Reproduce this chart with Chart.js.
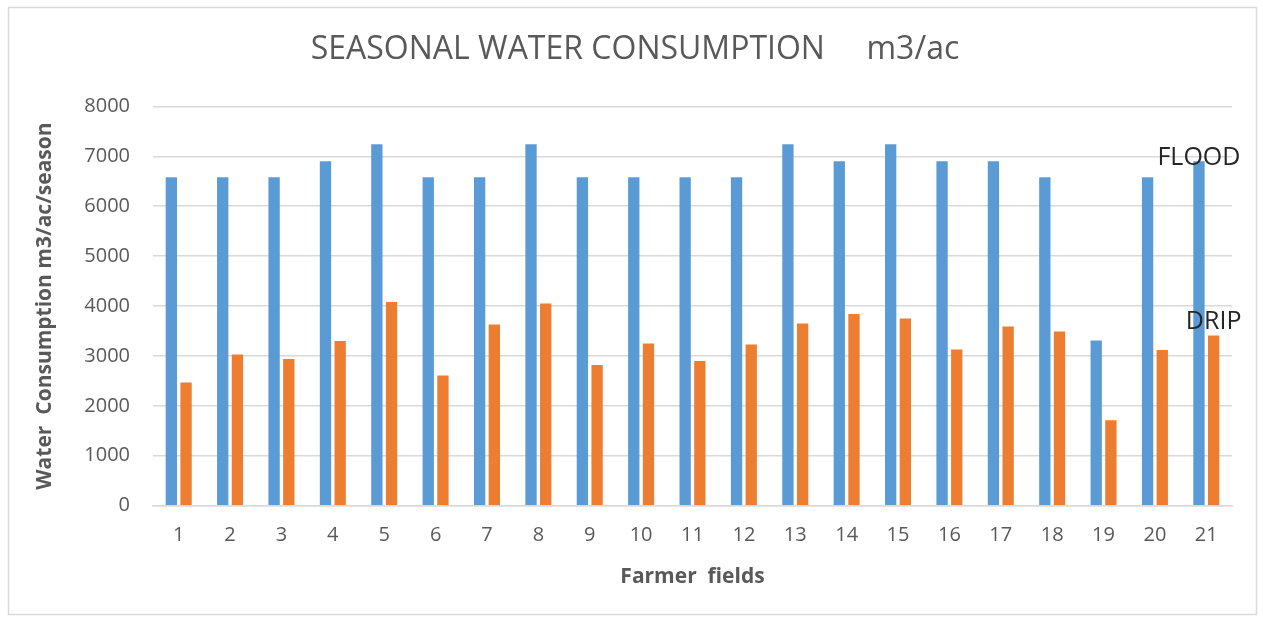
<!DOCTYPE html>
<html>
<head>
<meta charset="utf-8">
<script src="https://cdn.jsdelivr.net/npm/chart.js@4.4.1/dist/chart.umd.min.js"></script>
<style>
  html, body { margin: 0; padding: 0; background: #fff; }
  #wrap { width: 1263px; height: 620px; position: relative; }
</style>
</head>
<body>
<div id="wrap"><canvas id="chart"></canvas></div>
<script>
// farmer field numbers
const fields = ["1", "2", "3", "4", "5", "6", "7", "8", "9", "10", "11",
  "12", "13", "14", "15", "16", "17", "18", "19", "20", "21"];

// seasonal water use, m3/ac/season
const flood = [6580, 6580, 6580, 6900, 7240, 6580, 6580, 7240, 6580, 6580, 6580,
  6580, 7240, 6900, 7240, 6900, 6900, 6580, 3310, 6580, 6900];
const drip = [2470, 3030, 2940, 3300, 4080, 2610, 3630, 4050, 2820, 3250, 2900,
  3230, 3650, 3840, 3750, 3130, 3590, 3490, 1710, 3120, 3410];

const yMin = 0;
const yMax = 8000;
const yStep = 1000;

const grey = "#595959";
const gridGrey = "#d9d9d9";

// white page + thin frame like the excel chart box
const frame = {
  id: "frame",
  beforeDraw(chart) {
    const ctx = chart.ctx;
    ctx.save();
    ctx.fillStyle = "#fff";
    ctx.fillRect(0, 0, chart.width, chart.height);
    ctx.strokeStyle = gridGrey;
    ctx.lineWidth = 1.5;
    ctx.strokeRect(8.5, 7.5, 1248, 607);
    ctx.restore();
  },
};

// series names written above the last pair of bars
const seriesNames = {
  id: "seriesNames",
  afterDatasetsDraw(chart, args, opts) {
    const ctx = chart.ctx;
    ctx.save();
    ctx.font = "25px 'Open Sans'";
    ctx.fillStyle = "#262626";
    ctx.textAlign = "center";
    ctx.textBaseline = "alphabetic";
    chart.data.datasets.forEach((ds, i) => {
      const meta = chart.getDatasetMeta(i);
      const bar = meta.data[meta.data.length - 1];
      ctx.fillText(ds.label, bar.x, bar.y + opts.shift[i]);
    });
    ctx.restore();
  },
};

new Chart(document.getElementById("chart"), {
  type: "bar",
  data: {
    labels: fields,
    datasets: [
      { label: "FLOOD", data: flood, backgroundColor: "#5b9bd5" },
      { label: "DRIP", data: drip, backgroundColor: "#ed7d31" },
    ],
  },
  options: {
    responsive: true,
    maintainAspectRatio: false,
    animation: false,
    categoryPercentage: 0.572,
    barPercentage: 0.77,
    layout: {
      // left padding chosen so the chart title sits centred on the frame
      padding: { top: 14, left: 38, right: 31, bottom: 14 },
    },
    scales: {
      x: {
        grid: { display: false, drawTicks: false },
        border: { display: true, color: gridGrey, width: 1.5 },
        ticks: {
          color: grey,
          padding: 18,
          maxRotation: 0,
          font: { family: "'Open Sans'", size: 20 },
        },
        title: {
          display: true,
          text: "Farmer  fields",
          color: grey,
          padding: { top: 0, bottom: 16 },
          font: { family: "'Open Sans'", size: 21, weight: "bold" },
        },
        afterFit(scale) {
          scale.height = 100.3;
        },
      },
      y: {
        min: yMin,
        max: yMax,
        grid: { color: gridGrey, lineWidth: 1.5, drawTicks: false },
        border: { display: false },
        ticks: {
          stepSize: yStep,
          color: grey,
          padding: 23,
          font: { family: "'Open Sans'", size: 20 },
          callback: (v) => String(v),
        },
        title: {
          display: true,
          text: "Water  Consumption m3/ac/season",
          color: grey,
          padding: { top: -5.6, bottom: 0 },
          font: { family: "'Open Sans'", size: 21, weight: "bold" },
        },
        afterFit(scale) {
          scale.width = 115;
        },
      },
    },
    plugins: {
      legend: { display: false },
      tooltip: { enabled: false },
      title: {
        display: true,
        text: "SEASONAL WATER CONSUMPTION     m3/ac",
        color: grey,
        padding: { top: 17, bottom: 37 },
        font: { family: "'Open Sans'", size: 32, weight: "normal" },
      },
      seriesNames: { shift: [4, -6] },
    },
  },
  plugins: [frame, seriesNames],
});
</script>
</body>
</html>
